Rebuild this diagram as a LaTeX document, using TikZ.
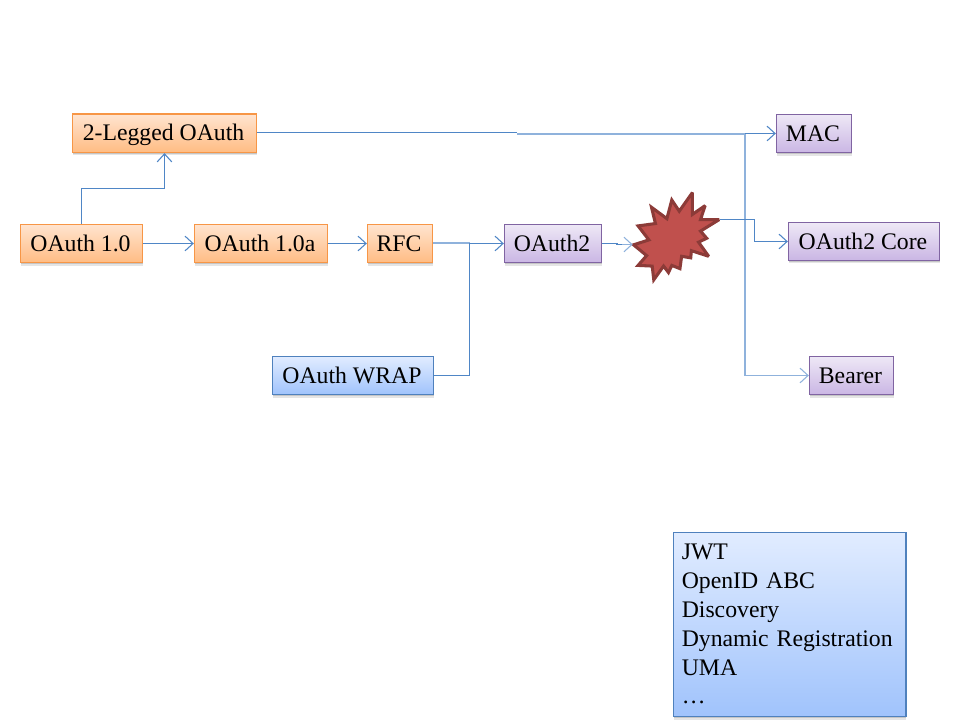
\documentclass[tikz,border=0pt]{standalone}
\usepackage{fontspec}
\setmainfont{Liberation Serif}
\usetikzlibrary{arrows.meta,shadows}
\definecolor{wire}{HTML}{4F86C6}
\definecolor{wirepale}{HTML}{8FB2DC}
\definecolor{oline}{HTML}{F79646}
\definecolor{otop}{HTML}{FFE4D0}
\definecolor{obot}{HTML}{FFBC83}
\definecolor{bline}{HTML}{4F81BD}
\definecolor{btop}{HTML}{E1ECFF}
\definecolor{bbot}{HTML}{A0C3FC}
\definecolor{pline}{HTML}{8064A2}
\definecolor{ptop}{HTML}{EEE8F6}
\definecolor{pbot}{HTML}{CAB6E4}
\definecolor{burstfill}{HTML}{C0504D}
\definecolor{burstline}{HTML}{8C3B38}
\tikzset{
  x=0.75pt, y=-0.75pt,
  softshadow/.style={
    preaction={fill=black,opacity=.10,transform canvas={yshift=-2.2pt}},
    preaction={fill=black,opacity=.14,transform canvas={yshift=-1.2pt}}},
  card/.style={rectangle,line width=1pt,anchor=center,inner sep=0pt,
    font=\fontsize{17.8}{21.6}\selectfont,text=black,text height=11.5pt,text depth=0pt,softshadow,
    execute at begin node={\hspace*{-1.5pt}}},
  orangecard/.style={card,draw=oline,top color=otop,bottom color=obot},
  bluecard/.style={card,draw=bline,top color=btop,bottom color=bbot},
  purplecard/.style={card,draw=pline,top color=ptop,bottom color=pbot},
  wireline/.style={draw=wire,line width=0.85pt},
  paleline/.style={draw=wirepale,line width=1.5pt},
  barb/.style={-{Straight Barb[length=6pt,width=11pt,line width=0.8pt]}},
}
\begin{document}
\begin{tikzpicture}
\useasboundingbox (0,0) rectangle (960,720);

% protocol boxes
\node[orangecard,minimum width=138pt,minimum height=28.9pt] (twoleg) at (164.5,133.2) {2-Legged OAuth};
\node[orangecard,minimum width=91.5pt,minimum height=28.9pt] (oa10) at (81.5,243.5) {OAuth 1.0};
\node[orangecard,minimum width=99.75pt,minimum height=28.9pt] (oa10a) at (261,243.5) {OAuth 1.0a};
\node[orangecard,minimum width=48.75pt,minimum height=28.9pt] (rfc) at (400,243.5) {RFC};
\node[bluecard,minimum width=120.75pt,minimum height=28.6pt] (wrap) at (353,375.5) {OAuth WRAP};
\node[purplecard,minimum width=72.75pt,minimum height=28.9pt] (oa2) at (553,243.5) {OAuth2};
\node[purplecard,minimum width=56.25pt,minimum height=28.9pt] (mac) at (814,133.5) {MAC};
\node[purplecard,minimum width=113.25pt,minimum height=28.3pt] (core) at (864,241.5) {OAuth2 Core};
\node[purplecard,minimum width=63pt,minimum height=28.9pt] (bearer) at (851.5,375.5) {Bearer};

% list of related specifications
\node[card,draw=bline,line width=0.9pt,top color=btop,bottom color=bbot,minimum width=174.3pt,minimum height=138pt,
      text height=0pt,text depth=0pt,anchor=north west] (specs) at (673,532.2) {};
\node[anchor=north west,inner sep=0pt,text width=170pt,align=left,text=black,
      font=\fontsize{17.8}{21.6}\selectfont] (specstext) at (681.5,544)
  {JWT\\OpenID ABC\\Discovery\\Dynamic Registration\\UMA\\…};

% junction points
\coordinate (starL) at (632.7,244.5);
\coordinate (starR) at (720,219.5);
\coordinate (busTop) at (745,133.5);
\coordinate (busBottom) at (744.5,375.5);
\coordinate (wrapJoin) at (469.5,243.5);

% the burst, drawn slightly inset so the mitred tips land on the junction points
\begin{scope}[shift={(13.54,4.72)},scale=0.98]
\path[fill=burstfill,draw=burstline,line width=2.3pt,line join=miter,miter limit=3]
  (632.7,245)
  -- (648.3,240) -- (637.3,225.7) -- (655,223.3) -- (651,206.7)
  -- (666.7,218.3) -- (671.7,199.3) -- (679.3,210.7) -- (692.7,191.7)
  -- (692.7,214) -- (705.7,205) -- (701,219.3) -- (720,219.3)
  -- (701,231) -- (707.3,238.3) -- (699,242.3) -- (709.3,256.7)
  -- (691.7,251) -- (691,258.3) -- (681.7,256.7) -- (680,269.3)
  -- (671.7,266) -- (668.3,273.3) -- (663.3,266.7) -- (653.3,280.7)
  -- (651.7,266.7) -- (637.3,266) -- (646,256) -- cycle;
\end{scope}

% connectors
\draw[wireline,barb] (81.5,224) -- (81.5,188.5) -| (twoleg.south);
\draw[wireline,barb] (oa10.east) -- (oa10a.west);
\draw[wireline,barb] (oa10a.east) -- (rfc.west);
\draw[paleline] (rfc.east) -- (wrapJoin);
\draw[wireline,barb] (wrapJoin) -- (oa2.west);
\draw[wireline] (wrap.east) -| (wrapJoin);
\draw[wireline] (oa2.east) -- (617,243.5) -- (617,244.5) -- (622,244.5);
\draw[draw=wirepale,line width=1pt,barb] (622,244.5) -- (starL);
\draw[wireline] (257,132.5) -- (517,132.5);
\draw[paleline] (517,133.6) -- (745,133.6);
\draw[paleline] (busTop) -- (745,133.5 |- busBottom);
\draw[draw=wirepale,line width=1pt,barb] (busBottom) -- (busBottom -| bearer.west);
\draw[draw=wire,line width=1pt,barb] (busTop) -- (mac.west);
\draw[wireline,barb] (starR) -- (754.5,219.5) |- (core.west);
\end{tikzpicture}
\end{document}
